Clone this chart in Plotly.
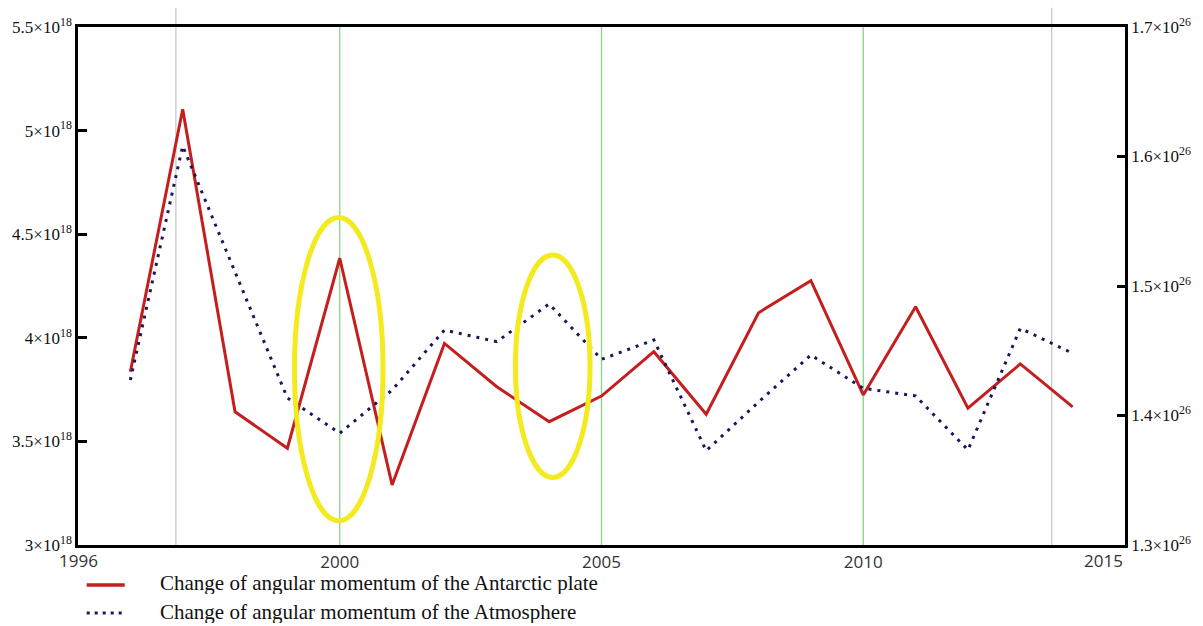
import plotly.graph_objects as go

# ---- data ----
years = list(range(1996, 2015))
plate = [3.836, 5.103, 3.643, 3.467, 4.384, 3.290, 3.973, 3.764, 3.595, 3.719,
         3.933, 3.631, 4.121, 4.276, 3.724, 4.150, 3.660, 3.874, 3.667]      # x 1e18
atmos = [1.4274, 1.6081, 1.5108, 1.4135, 1.3863, 1.4197, 1.4660, 1.4570, 1.4861, 1.4434,
         1.4583, 1.3728, 1.4104, 1.4467, 1.4210, 1.4151, 1.3734, 1.4673, 1.4480]  # x 1e26
left_ticks = [3, 3.5, 4, 4.5, 5, 5.5]
left_labels = ["3", "3.5", "4", "4.5", "5", "5.5"]
right_ticks = [1.3, 1.4, 1.5, 1.6, 1.7]
right_labels = ["1.3", "1.4", "1.5", "1.6", "1.7"]
x_ticks = [2000, 2005, 2010]
x_end_labels = ["1996", "2015"]
green_lines = [2000, 2005, 2010]
grey_lines = [1996.87, 2013.6]
ellipses = [(1999.135, 2000.827, 3.117, 4.581), (2003.356, 2004.781, 3.326, 4.400)]
legend_names = ["Change of angular momentum of the Antarctic plate",
                "Change of angular momentum of the Atmosphere"]

RED = "#c41e1e"
BLUE = "#17175e"
YELLOW = "#f3eb1f"
SERIF = "Liberation Serif, Times New Roman, serif"
SANS = "Open Sans, Arial, sans-serif"

fig = go.Figure()
fig.add_trace(go.Scatter(x=years, y=[v * 1e18 for v in plate], mode="lines",
                         line=dict(color=RED, width=3), name=legend_names[0],
                         yaxis="y", showlegend=False))
fig.add_trace(go.Scatter(x=years, y=[v * 1e26 for v in atmos], mode="lines",
                         line=dict(color=BLUE, width=3, dash="3px,6px"), name=legend_names[1],
                         yaxis="y2", showlegend=False))

shapes = []
for gx in green_lines:
    shapes.append(dict(type="line", xref="x", yref="paper", x0=gx, x1=gx, y0=0, y1=1,
                       line=dict(color="#86d486", width=1.3), layer="below"))
for gx in grey_lines:
    shapes.append(dict(type="line", xref="x", yref="paper", x0=gx, x1=gx, y0=0, y1=1.037,
                       line=dict(color="#c4c4c4", width=1.2), layer="below"))
for (x0, x1, y0, y1) in ellipses:
    shapes.append(dict(type="circle", xref="x", yref="y", x0=x0, x1=x1, y0=y0 * 1e18, y1=y1 * 1e18,
                       line=dict(color=YELLOW, width=5), layer="above"))
# legend samples
shapes.append(dict(type="line", xref="paper", yref="paper", x0=0.0083, x1=0.0446,
                   y0=-0.0772, y1=-0.0772, line=dict(color=RED, width=3.5)))
shapes.append(dict(type="line", xref="paper", yref="paper", x0=0.0083, x1=0.0446,
                   y0=-0.1313, y1=-0.1313, line=dict(color=BLUE, width=3, dash="3px,5px")))

annotations = [
    dict(x=1995, y=0, xref="x", yref="paper", text=x_end_labels[0], showarrow=False,
         xanchor="center", yanchor="top", yshift=-2, font=dict(family=SANS, size=17, color="#333")),
    dict(x=2015, y=0, xref="x", yref="paper", text=x_end_labels[1], showarrow=False,
         xanchor="right", yanchor="top", yshift=-2, font=dict(family=SANS, size=17, color="#333")),
    dict(x=0.0770, y=-0.0725, xref="paper", yref="paper", text=legend_names[0], showarrow=False,
         xanchor="left", yanchor="middle", height=22, borderpad=0, valign="middle",
         font=dict(family=SERIF, size=21, color="#111")),
    dict(x=0.0770, y=-0.1293, xref="paper", yref="paper", text=legend_names[1], showarrow=False,
         xanchor="left", yanchor="middle", height=22, borderpad=0, valign="middle",
         font=dict(family=SERIF, size=21, color="#111")),
]

fig.update_layout(
    width=1203, height=626,
    margin=dict(l=73, r=77, t=27, b=81),
    paper_bgcolor="white", plot_bgcolor="white",
    showlegend=False,
    xaxis=dict(range=[1995, 2015], tickvals=x_ticks, ticktext=[str(t) for t in x_ticks],
               showgrid=False, zeroline=False, showline=True, linecolor="black", linewidth=2.5,
               mirror=True, ticks="", tickfont=dict(family=SANS, size=17, color="#333")),
    yaxis=dict(range=[3e18, 5.5e18], tickvals=[t * 1e18 for t in left_ticks],
               ticktext=[l + "×10<sup>18</sup>" for l in left_labels],
               showgrid=False, zeroline=False, showline=True, linecolor="black", linewidth=2.5,
               ticks="inside", ticklen=9, tickwidth=2.5, tickcolor="black",
               tickfont=dict(family=SERIF, size=17, color="#111")),
    yaxis2=dict(range=[1.3e26, 1.7e26], tickvals=[t * 1e26 for t in right_ticks],
                ticktext=[l + "×10<sup>26</sup>" for l in right_labels],
                overlaying="y", side="right",
                showgrid=False, zeroline=False, showline=True, linecolor="black", linewidth=2.5,
                ticks="inside", ticklen=8, tickwidth=2.5, tickcolor="black",
                tickfont=dict(family=SERIF, size=17, color="#111")),
    shapes=shapes,
    annotations=annotations,
)

fig.write_html("out.html")
